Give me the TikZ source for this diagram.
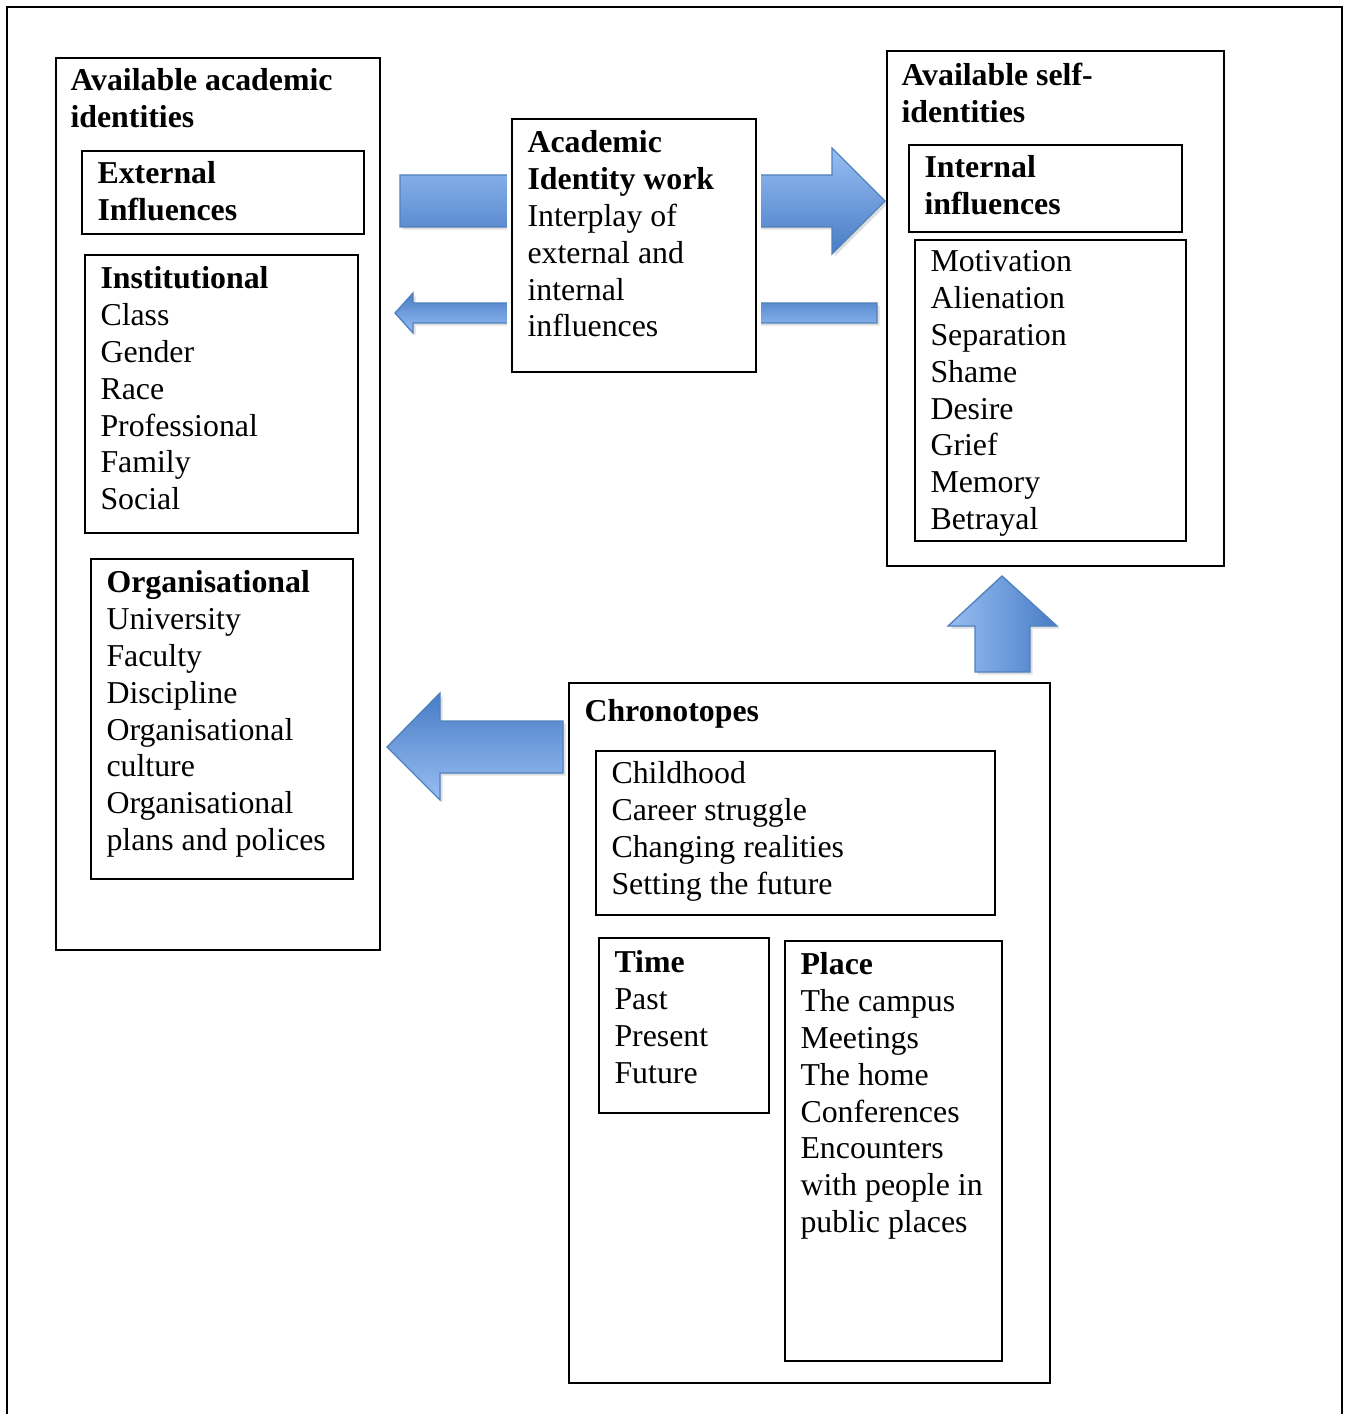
\documentclass[tikz,border=0pt]{standalone}
\usepackage{fontspec}
\setmainfont{Liberation Serif}
\usetikzlibrary{fit,shadows}

\definecolor{arrowlight}{RGB}{152,190,242}
\definecolor{arrowdark}{RGB}{72,124,198}
\definecolor{arrowedge}{RGB}{79,129,189}

\tikzset{
  box/.style={draw, line width=0.8pt, inner sep=0pt},
  txt/.style={anchor=north west, inner sep=0pt, align=left,
    font=\fontsize{12}{13.9}\selectfont, execute at begin node=\strut},
  blk/.style={draw=arrowedge, line width=0.5pt,
    drop shadow={shadow xshift=1pt, shadow yshift=-1pt, opacity=0.25}},
}

\begin{document}
\begin{tikzpicture}[x=0.377pt, y=-0.377pt]
  \useasboundingbox (0,0) rectangle (1348,1414);
  % outer frame, open at the bottom
  \draw[line width=0.8pt] (7,1414) -- (7,7) -- (1342,7) -- (1342,1414);

  % block arrows
  \coordinate (tailA) at (400,201);
  \coordinate (tipA) at (885,201);
  \shade[blk, top color=arrowlight, bottom color=arrowdark]
    (tailA) ++(0,-26) -- ++(432,0) -- ++(0,-27) -- (tipA)
    -- ++(-53,53) -- ++(0,-27) -- ++(-432,0) -- cycle;
  \coordinate (tailB) at (877,313);
  \coordinate (tipB) at (395,313);
  \shade[blk, top color=arrowdark, bottom color=arrowlight]
    (tailB) ++(0,-10) -- ++(-464,0) -- ++(0,-10) -- (tipB)
    -- ++(18,20) -- ++(0,-10) -- ++(464,0) -- cycle;
  \coordinate (tailC) at (563,747);
  \coordinate (tipC) at (387,747);
  \shade[blk, top color=arrowdark, bottom color=arrowlight]
    (tailC) ++(0,-26) -- ++(-123,0) -- ++(0,-28) -- (tipC)
    -- ++(53,53) -- ++(0,-27) -- ++(123,0) -- cycle;
  \coordinate (tailD) at (1002,672);
  \coordinate (tipD) at (1002,576);
  \shade[blk, left color=arrowlight, right color=arrowdark]
    (tailD) ++(-27,0) -- ++(0,-46) -- ++(-27,0) -- (tipD)
    -- ++(55,50) -- ++(-27,0) -- ++(0,46) -- cycle;

  % left column
  \node[box, fit={(56,58) (380,950)}] (acad) {};
  \node[txt] (acadT) at (70,68) {\textbf{Available academic}\\\textbf{identities}};
  \node[box, fit={(82,151) (364,234)}] (ext) {};
  \node[txt] (extT) at (97,161) {\textbf{External}\\\textbf{Influences}};
  \node[box, fit={(85,255) (358,533)}] (inst) {};
  \node[txt] (instT) at (100,266) {\textbf{Institutional}\\Class\\Gender\\Race\\Professional\\Family\\Social};
  \node[box, fit={(91,559) (353,879)}] (org) {};
  \node[txt] (orgT) at (106,570) {\textbf{Organisational}\\University\\Faculty\\Discipline\\Organisational\\culture\\Organisational\\plans and polices};

  % centre
  \node[box, fill=white, preaction={draw=white, line width=4pt},
    fit={(512,119) (756,372)}] (work) {};
  \node[txt] (workT) at (527,130) {\textbf{Academic}\\\textbf{Identity work}\\Interplay of\\external and\\internal\\influences};

  % right column
  \node[box, fit={(887,51) (1224,566)}] (self) {};
  \node[txt] (selfT) at (901,63) {\textbf{Available self-}\\\textbf{identities}};
  \node[box, fit={(909,145) (1182,232)}] (intl) {};
  \node[txt] (intlT) at (924,155) {\textbf{Internal}\\\textbf{influences}};
  \node[box, fit={(915,240) (1186,541)}] (emo) {};
  \node[txt] (emoT) at (930,250) {Motivation\\Alienation\\Separation\\Shame\\Desire\\Grief\\Memory\\Betrayal};

  % chronotopes
  \node[box, fit={(569,683) (1050,1383)}] (chron) {};
  \node[txt] (chronT) at (584,695) {\textbf{Chronotopes}};
  \node[box, fit={(596,751) (995,915)}] (phase) {};
  \node[txt] (phaseT) at (611,761) {Childhood\\Career struggle\\Changing realities\\Setting the future};
  \node[box, fit={(599,938) (769,1113)}] (time) {};
  \node[txt] (timeT) at (614,950) {\textbf{Time}\\Past\\Present\\Future};
  \node[box, fit={(785,941) (1002,1361)}] (place) {};
  \node[txt] (placeT) at (800,952) {\textbf{Place}\\The campus\\Meetings\\The home\\Conferences\\Encounters\\with people in\\public places};
\end{tikzpicture}
\end{document}
